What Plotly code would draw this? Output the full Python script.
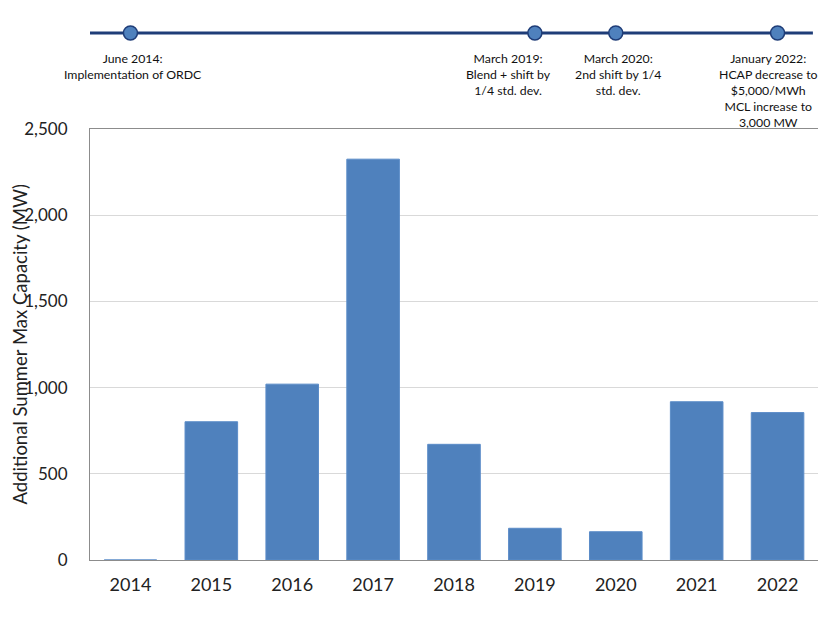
import plotly.graph_objects as go

years = ["2014", "2015", "2016", "2017", "2018", "2019", "2020", "2021", "2022"]
capacity_mw = [0, 802, 1020, 2325, 671, 184, 164, 918, 855]

y_title = "Additional Summer Max Capacity (MW)"

event_years = ["2014", "2019", "2020", "2022"]
event_labels = [
    "June 2014:<br>Implementation of ORDC",
    "March 2019:<br>Blend + shift by<br>1/4 std. dev.",
    "March 2020:<br>2nd shift by 1/4<br>std. dev.",
    "January 2022:<br>HCAP decrease to<br>$5,000/MWh<br>MCL increase to<br>3,000 MW",
]
event_level = [0, 0, 0, 0]
label_xshift = [2, -26, 2, -9]    # label offsets from the marker, px

FONT = "Lato, Open Sans, sans-serif"
BAR = "#4F81BD"
NAVY = "#1F3D78"

# page body has an 8px margin, so the figure is drawn 8px right/down
W, H = 818, 612
MT, MB = 0, 60
PH = H - MT - MB
LINE_Y = 26                       # timeline height in figure pixels
LINE_P = (PH - LINE_Y) / PH       # as paper fraction
MAIN_TOP = (PH - 121) / PH        # top of the bar panel, paper fraction

fig = go.Figure()
fig.add_trace(go.Bar(
    x=years, y=capacity_mw,
    marker=dict(color=BAR, line=dict(color="#5B8CC8", width=1)),
    width=0.65, showlegend=False, hoverinfo="x+y",
))
fig.add_trace(go.Scatter(
    x=event_years, y=event_level, yaxis="y2", mode="markers",
    marker=dict(size=14, color=BAR, line=dict(color=NAVY, width=1.5)),
    showlegend=False, cliponaxis=False, hoverinfo="text", text=event_labels,
))

fig.add_shape(type="line", xref="paper", x0=0, x1=0.993, yref="y2", y0=0, y1=0,
              line=dict(color=NAVY, width=3), layer="below")

for yr, txt, dx in zip(event_years, event_labels, label_xshift):
    fig.add_annotation(x=years.index(yr), y=LINE_P, xref="x", yref="paper", text=txt,
                       showarrow=False, yanchor="top", yshift=-15, xshift=dx, align="center",
                       font=dict(family=FONT, size=12.3, color="#111111"))

# y-axis title as rotated text
fig.add_annotation(x=0, y=MAIN_TOP / 2, xref="paper", yref="paper", text=y_title,
                   textangle=-90, showarrow=False, xanchor="center", yanchor="middle",
                   xshift=-71, font=dict(family=FONT, size=18.5, color="#222222"))

fig.update_layout(
    width=W, height=H,
    margin=dict(l=82, r=8, t=MT, b=MB),
    paper_bgcolor="white", plot_bgcolor="white",
    font=dict(family=FONT, color="#222222"),
    bargap=0.35,
    xaxis=dict(
        type="category", showline=True, linecolor="#8c8c8c", linewidth=1.2, mirror=True,
        tickfont=dict(size=18, color="#222222"), ticks="", showgrid=False,
        range=[-0.5, 8.5], automargin=False, ticklabelstandoff=8,
    ),
    yaxis=dict(
        domain=[0, MAIN_TOP], range=[0, 2500], dtick=500, tickformat=",",
        showline=True, linecolor="#8c8c8c", linewidth=1.2, mirror=True,
        gridcolor="#d9d9d9", gridwidth=1, ticks="", zeroline=False,
        tickfont=dict(size=17, color="#222222"), automargin=False, ticklabelstandoff=18,
    ),
    yaxis2=dict(
        domain=[0.82, 1.0], range=[-1, 0.337], fixedrange=True,
        anchor="x", showticklabels=False, showgrid=False, zeroline=False, showline=False,
        automargin=False,
    ),
)

fig.write_html("out.html")
